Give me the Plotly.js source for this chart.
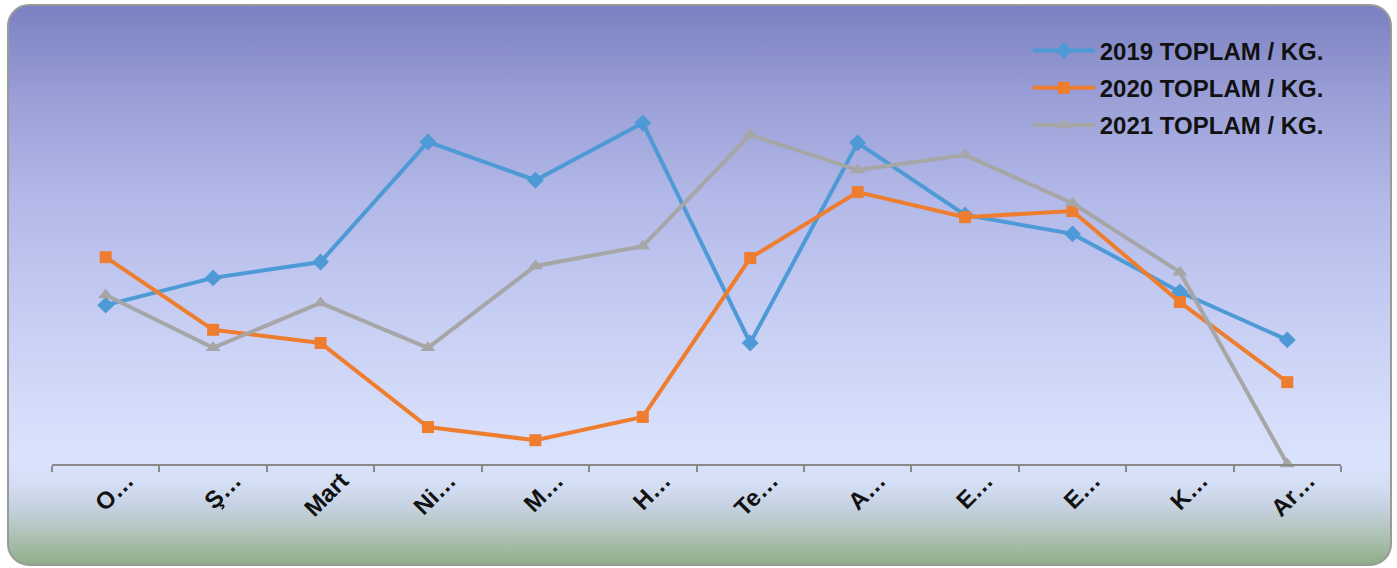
<!DOCTYPE html>
<html>
<head>
<meta charset="utf-8">
<script src="https://cdn.plot.ly/plotly-3.0.1.min.js"></script>
<style>
  html, body { margin: 0; padding: 0; background: #ffffff; width: 1397px; height: 568px; overflow: hidden; }
  #bg {
    position: absolute; left: 7px; top: 4px; width: 1381px; height: 558px;
    border: 2px solid #9a9a9a; border-radius: 22px;
    background: linear-gradient(to bottom,
      #7b81c1 0%, #9ba0d7 17%, #b3b9e8 35%, #c6cdf3 55%, #d4dcfa 72%, #dae3fc 81.5%,
      #d3ddf3 86%, #c4d1df 90%, #aec2b3 95%, #8fac8a 100%);
  }
  #chart { position: absolute; left: 0; top: 0; width: 1397px; height: 568px; }
</style>
</head>
<body>
<div id="bg"></div>
<div id="chart"></div>
<script>
const months = ["Ocak","Şubat","Mart","Nisan","Mayıs","Haziran","Temmuz","Ağustos","Eylül","Ekim","Kasım","Aralık"];
const tickLabels = ["O…","Ş…","Mart","Ni…","M…","H…","Te…","A…","E…","E…","K…","Ar…"];
const seriesNames = ["2019 TOPLAM / KG.","2020 TOPLAM / KG.","2021 TOPLAM / KG."];
const values2019 = [36.1, 42.3, 45.9, 73.2, 64.5, 77.5, 27.5, 73.0, 56.6, 52.3, 39.1, 28.2];
const values2020 = [47.0, 30.5, 27.5, 8.4, 5.4, 10.7, 46.8, 61.8, 56.1, 57.5, 36.8, 18.6];
const values2021 = [38.4, 26.4, 36.6, 26.4, 45.0, 49.5, 74.8, 66.8, 70.2, 59.3, 43.6, 0];

const xIdx = months.map((m, i) => i);

function mk(name, y, color, symbol, size, group) {
  return {
    type: "scatter", mode: "lines+markers", name: name, x: xIdx, y: y,
    legendgroup: group,
    line: { color: color, width: 4 },
    marker: { color: color, symbol: symbol, size: size },
    cliponaxis: false,
    hovertext: months, hoverinfo: "text+y+name"
  };
}

const data = [
  mk(seriesNames[0], values2019, "#4d9ad6", "diamond", 13, "a"),
  mk(seriesNames[1], values2020, "#ef7d2f", "square", 12, "b"),
  mk(seriesNames[2], values2021, "#a6a6a6", "triangle-up", 13, "c")
];

const layout = {
  width: 1397, height: 568,
  paper_bgcolor: "rgba(0,0,0,0)", plot_bgcolor: "rgba(0,0,0,0)",
  margin: { l: 52, r: 56, t: 24, b: 104 },
  font: { family: "Liberation Sans, Arial, sans-serif", color: "#111111" },
  showlegend: true,
  legend: {
    x: 0.757, y: 0.99, xanchor: "left", yanchor: "top",
    bgcolor: "rgba(0,0,0,0)", borderwidth: 0,
    font: { size: 24, color: "#111111", family: "Liberation Sans, Arial, sans-serif", weight: "bold" },
    traceorder: "grouped", tracegroupgap: 3, itemwidth: 62
  },
  xaxis: {
    range: [-0.5, 11.5], fixedrange: true,
    showgrid: false, zeroline: false,
    showline: true, linecolor: "#8a8a8a", linewidth: 2,
    tickmode: "array", tickvals: xIdx, ticktext: tickLabels,
    ticks: "", tickangle: -45,
    ticklabelshift: 21, ticklabelstandoff: -9,
    tickfont: { size: 24, color: "#111111", family: "Liberation Sans, Arial, sans-serif", weight: "bold" },
    minor: { tick0: -0.5, dtick: 1, ticks: "outside", ticklen: 6, tickwidth: 2, tickcolor: "#8a8a8a", showgrid: false }
  },
  yaxis: {
    range: [0, 100], visible: false, showgrid: false, zeroline: false, fixedrange: true
  }
};

Plotly.newPlot("chart", data, layout, { displayModeBar: false, staticPlot: true });
</script>
</body>
</html>
